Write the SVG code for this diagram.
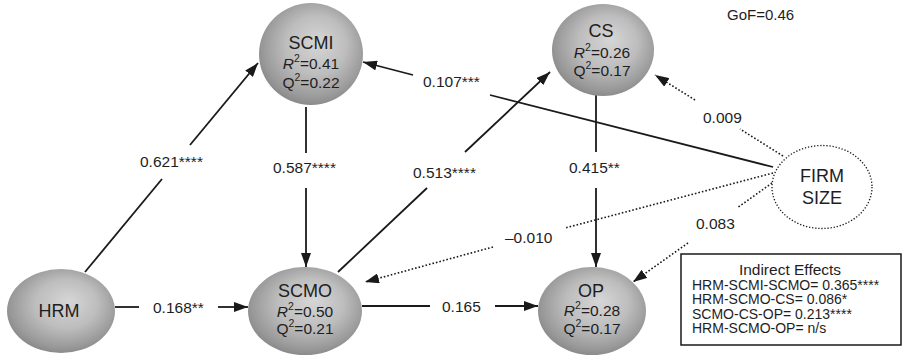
<svg xmlns="http://www.w3.org/2000/svg" width="902" height="358" viewBox="0 0 902 358">
<style>
  text { font-family: "Liberation Sans", Arial, sans-serif; fill: #1e1e1e; }
  .name { font-size: 18px; text-anchor: middle; }
  .stat { font-size: 15.5px; text-anchor: middle; }
  .lbl { font-size: 15.5px; }
  .box { font-size: 14px; }
  .node { fill: url(#sph); }
  .solid { stroke: #1a1a1a; stroke-width: 1.8; fill: none; }
  .dot { stroke: #1a1a1a; stroke-width: 1.6; fill: none; stroke-dasharray: 1.6 2; }
</style>
<defs>
  <radialGradient id="sph" cx="0.52" cy="0.45" r="0.58" fx="0.58" fy="0.38">
    <stop offset="0" stop-color="#d6d6d6"/>
    <stop offset="0.5" stop-color="#bdbdbd"/>
    <stop offset="0.85" stop-color="#999"/>
    <stop offset="1" stop-color="#858585"/>
  </radialGradient>
  <marker id="ah" viewBox="0 0 14 10" refX="14" refY="5" markerWidth="14" markerHeight="10" markerUnits="userSpaceOnUse" orient="auto">
    <path d="M0,0 L14,5 L0,10 Z" fill="#1a1a1a"/>
  </marker>
</defs>

<g id="connectors">
  <!-- HRM -> SCMI -->
  <line class="solid" x1="85" y1="272" x2="162" y2="179"/>
  <line class="solid" x1="190" y1="145" x2="258" y2="63" marker-end="url(#ah)"/>
  <text class="lbl" x="140" y="167">0.621****</text>
  <!-- SCMI -> SCMO -->
  <line class="solid" x1="306" y1="107" x2="306" y2="153"/>
  <line class="solid" x1="306" y1="188" x2="306" y2="267" marker-end="url(#ah)"/>
  <text class="lbl" x="273" y="173">0.587****</text>
  <!-- HRM -> SCMO -->
  <line class="solid" x1="115" y1="307" x2="139" y2="307"/>
  <line class="solid" x1="218" y1="307" x2="248" y2="307" marker-end="url(#ah)"/>
  <text class="lbl" x="153" y="313">0.168**</text>
  <!-- SCMO -> OP -->
  <line class="solid" x1="362" y1="306" x2="430" y2="306"/>
  <line class="solid" x1="495" y1="306" x2="538" y2="306" marker-end="url(#ah)"/>
  <text class="lbl" x="442" y="312">0.165</text>
  <!-- SCMO -> CS -->
  <line class="solid" x1="338" y1="272" x2="427" y2="188"/>
  <line class="solid" x1="465" y1="152" x2="550" y2="72" marker-end="url(#ah)"/>
  <text class="lbl" x="413" y="178">0.513****</text>
  <!-- CS -> OP -->
  <line class="solid" x1="596" y1="95" x2="596" y2="152"/>
  <line class="solid" x1="596" y1="188" x2="596" y2="267" marker-end="url(#ah)"/>
  <text class="lbl" x="569" y="173">0.415**</text>
  <!-- FIRM SIZE -> SCMI -->
  <line class="solid" x1="773" y1="167" x2="490" y2="95"/>
  <line class="solid" x1="413" y1="75" x2="363" y2="62" marker-end="url(#ah)"/>
  <text class="lbl" x="423" y="87">0.107***</text>
  <!-- FIRM SIZE -> CS -->
  <line class="dot" x1="783" y1="156" x2="740" y2="129"/>
  <line class="dot" x1="695" y1="100" x2="655" y2="75" marker-end="url(#ah)"/>
  <text class="lbl" x="703" y="123">0.009</text>
  <!-- FIRM SIZE -> SCMO -->
  <line class="dot" x1="773" y1="173" x2="565" y2="228"/>
  <line class="dot" x1="493" y1="247" x2="365" y2="282" marker-end="url(#ah)"/>
  <text class="lbl" x="505" y="243">–0.010</text>
  <!-- FIRM SIZE -> OP -->
  <line class="dot" x1="772" y1="183" x2="737" y2="208"/>
  <line class="dot" x1="688" y1="243" x2="633" y2="282" marker-end="url(#ah)"/>
  <text class="lbl" x="696" y="229">0.083</text>
</g>

<g id="HRM">
  <ellipse class="node" cx="61" cy="311" rx="54" ry="42"/>
  <text class="name" x="59" y="317">HRM</text>
</g>

<g id="SCMI">
  <ellipse class="node" cx="311" cy="54" rx="52" ry="51"/>
  <text class="name" x="311" y="49">SCMI</text>
  <text class="stat" x="311" y="69"><tspan font-style="italic">R</tspan><tspan dy="-7" font-size="10.5">2</tspan><tspan dy="7">=0.41</tspan></text>
  <text class="stat" x="311" y="88">Q<tspan dy="-7" font-size="10.5">2</tspan><tspan dy="7">=0.22</tspan></text>
</g>

<g id="CS">
  <ellipse class="node" cx="603" cy="50" rx="51" ry="46"/>
  <text class="name" x="601" y="37">CS</text>
  <text class="stat" x="602" y="58"><tspan font-style="italic">R</tspan><tspan dy="-7" font-size="10.5">2</tspan><tspan dy="7">=0.26</tspan></text>
  <text class="stat" x="602" y="76">Q<tspan dy="-7" font-size="10.5">2</tspan><tspan dy="7">=0.17</tspan></text>
</g>

<g id="SCMO">
  <ellipse class="node" cx="305" cy="311" rx="57" ry="44"/>
  <text class="name" x="305" y="297">SCMO</text>
  <text class="stat" x="305" y="317"><tspan font-style="italic">R</tspan><tspan dy="-7" font-size="10.5">2</tspan><tspan dy="7">=0.50</tspan></text>
  <text class="stat" x="305" y="334">Q<tspan dy="-7" font-size="10.5">2</tspan><tspan dy="7">=0.21</tspan></text>
</g>

<g id="OP">
  <ellipse class="node" cx="592" cy="311" rx="54" ry="44"/>
  <text class="name" x="591" y="297">OP</text>
  <text class="stat" x="592" y="316"><tspan font-style="italic">R</tspan><tspan dy="-7" font-size="10.5">2</tspan><tspan dy="7">=0.28</tspan></text>
  <text class="stat" x="592" y="334">Q<tspan dy="-7" font-size="10.5">2</tspan><tspan dy="7">=0.17</tspan></text>
</g>

<g id="FIRM_SIZE">
  <ellipse cx="822" cy="187" rx="50" ry="41.5" fill="#fff" stroke="#1a1a1a" stroke-width="1.3" stroke-dasharray="1.3 1.8"/>
  <text class="name" x="822" y="182">FIRM</text>
  <text class="name" x="822" y="204">SIZE</text>
</g>

<g id="GoF">
  <text x="727" y="20" font-size="15">GoF=0.46</text>
</g>

<g id="indirect_effects">
  <rect x="681" y="254" width="220" height="91" fill="#fff" stroke="#1a1a1a" stroke-width="1.5"/>
  <text x="790" y="275" font-size="15.5" text-anchor="middle">Indirect Effects</text>
  <text class="box" x="692" y="290">HRM-SCMI-SCMO= 0.365****</text>
  <text class="box" x="692" y="304">HRM-SCMO-CS= 0.086*</text>
  <text class="box" x="692" y="319">SCMO-CS-OP= 0.213****</text>
  <text class="box" x="692" y="333">HRM-SCMO-OP= n/s</text>
</g>
</svg>
